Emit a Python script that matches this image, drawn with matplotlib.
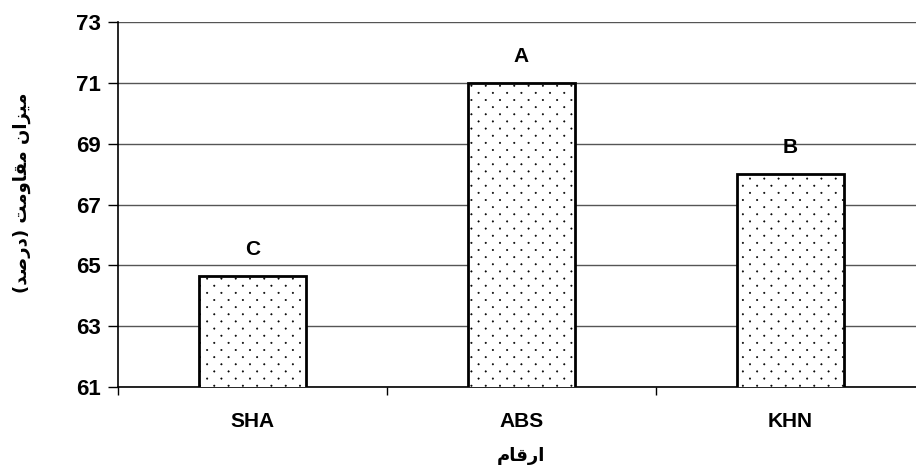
import numpy as np
import matplotlib
matplotlib.use("Agg")
import matplotlib.pyplot as plt
import matplotlib.hatch as mhatch
from matplotlib.path import Path

# ---- data ----
categories = ["SHA", "ABS", "KHN"]
values = [64.65, 71.0, 68.0]
groups = ["C", "A", "B"]
yticks = [61, 63, 65, 67, 69, 71, 73]
# Pre-shaped (presentation forms, visual order) Persian labels
xlabel_fa = "\uFEE1\uFE8E\uFED7\uFEAD\uFE8D"  # ارقام
ylabel_fa = ("(\uFEAA\uFEBB\uFEAD\uFEA9) "
             "\uFE96\uFEE3\uFEED\uFE8E\uFED8\uFEE3 "
             "\uFEE5\uFE8D\uFEB0\uFBFF\uFEE3")  # میزان مقاومت (درصد)


# ---- custom staggered dot hatch (replaces '.') ----
class StaggerDots(mhatch.HatchPatternBase):
    def __init__(self, hatch, density):
        self.rows = 14
        self.cols = 7
        self.r = 0.007
        circle = Path.unit_circle()
        self.sv = circle.vertices * self.r
        self.sc = circle.codes
        if hatch.count('.') > 0:
            n = 0
            for row in range(self.rows + 1):
                n += (self.cols + 1) if row % 2 == 0 else self.cols
            self.num_vertices = n * len(self.sv)
        else:
            self.num_vertices = 0

    def set_vertices_and_codes(self, vertices, codes):
        k = len(self.sv)
        cursor = 0
        for row in range(self.rows + 1):
            if row % 2 == 0:
                cols = np.linspace(0, 1, self.cols + 1)
            else:
                cols = np.linspace(0.5 / self.cols, 1 - 0.5 / self.cols, self.cols)
            y = row / self.rows
            for x in cols:
                vertices[cursor:cursor + k] = self.sv + (x, y)
                codes[cursor:cursor + k] = self.sc
                cursor += k


mhatch._hatch_types = [StaggerDots if t is mhatch.SmallFilledCircles else t
                       for t in mhatch._hatch_types]

plt.rcParams['hatch.linewidth'] = 0.4
plt.rcParams['font.family'] = ['Liberation Sans', 'DejaVu Sans']

fig = plt.figure(figsize=(9.16, 4.73), dpi=100)
ax = fig.add_axes([118 / 916, 86 / 473, 807 / 916, 365 / 473])

x = np.arange(len(categories))
bars = ax.bar(x, values, width=0.4, bottom=0, color='white',
              edgecolor='black', linewidth=2, hatch='.', zorder=3)

ax.set_xlim(-0.5, len(categories) - 0.5)
ax.set_ylim(61, 73)
ax.set_yticks(yticks)
ax.set_yticklabels([str(v) for v in yticks], fontsize=16, fontweight='bold')
ax.yaxis.grid(True, color='#555555', linewidth=1.0, zorder=0)
ax.set_axisbelow(True)

ax.set_xticks(x)
ax.set_xticklabels(categories, fontsize=15, fontweight='bold')
ax.tick_params(axis='x', which='major', length=0, pad=18)
ax.set_xticks(np.arange(-0.5, len(categories) + 0.5, 1), minor=True)
ax.tick_params(axis='x', which='minor', length=6, width=1, direction='out')
ax.tick_params(axis='y', length=7, width=1, direction='out', pad=5)

for s in ['top', 'right']:
    ax.spines[s].set_visible(False)
ax.spines['left'].set_linewidth(1.2)
ax.spines['bottom'].set_linewidth(1.2)

for xi, v, g in zip(x, values, groups):
    ax.annotate(g, (xi, v), xytext=(0, 12), textcoords='offset points',
                ha='center', va='bottom', fontsize=15, fontweight='bold')

fig.text(521 / 916, 1 - 456 / 473, xlabel_fa, ha='center', va='center',
         fontsize=13, fontweight='bold', family=['DejaVu Sans'])
fig.text(22 / 916, 1 - 193 / 473, ylabel_fa, ha='center', va='center',
         rotation=90, fontsize=13, fontweight='bold', family=['DejaVu Sans'])

fig.savefig('out.png', dpi=100)
